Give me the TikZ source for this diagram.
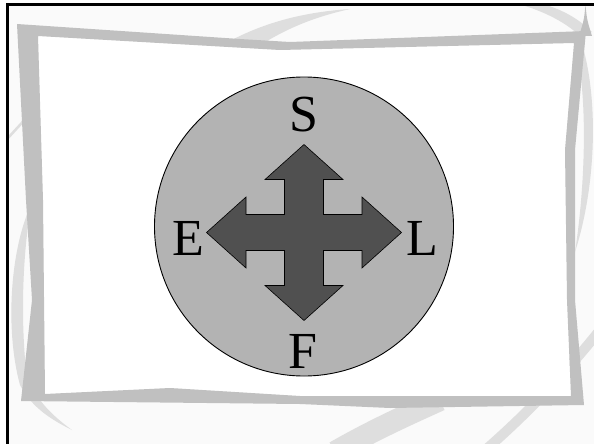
\documentclass[tikz,border=0pt]{standalone}
\usepackage{fontspec}
\setmainfont{Liberation Serif}
\definecolor{slidebg}{HTML}{FAFAFA}
\definecolor{framegrey}{HTML}{C0C0C0}
\definecolor{swooshgrey}{HTML}{DEDEDE}
\definecolor{discgrey}{HTML}{B3B3B3}
\definecolor{crossgrey}{HTML}{505050}
\begin{document}
\begin{tikzpicture}[x=1pt,y=-1pt,
  swoosh/.style={fill=swooshgrey},
  swooshline/.style={draw=swooshgrey},
  frameband/.style={fill=framegrey, even odd rule},
  letter/.style={font=\fontsize{52}{52}\selectfont, inner sep=0pt},
  disc/.style={draw=black, line width=0.9pt, circle, fill=discgrey, minimum size=299pt, inner sep=0pt},
  crossarrow/.style={draw=black, line width=0.6pt, fill=crossgrey, line join=miter}
]
\useasboundingbox (0,0) rectangle (594,444);
\fill[white] (0,0) rectangle (594,444);
\fill[slidebg] (7.5,4.5) rectangle (594,444);

% light swooshes
\fill[swoosh] (228,42) .. controls (265,22) and (305,12) .. (350,9)
  .. controls (310,18) and (285,30) .. (262,44) -- cycle;
\fill[swoosh] (522,5) .. controls (545,12) and (565,22) .. (580,36)
  -- (592,32) .. controls (578,18) and (562,10) .. (546,5) -- cycle;
\fill[framegrey] (585.5,5) .. controls (584,20) .. (579,36) -- (592,36)
  .. controls (587,20) .. (585.5,5) -- cycle;
\fill[swoosh] (580,38) .. controls (598,90) and (598,180) .. (575,252)
  .. controls (586,180) and (588,90) .. (574,40) -- cycle;
\fill[swoosh] (31,205) .. controls (10,250) and (5,330) .. (20,385)
  .. controls (32,408) and (52,420) .. (72,430)
  .. controls (50,414) and (32,396) .. (26,370)
  .. controls (21,320) and (22,260) .. (31,205) -- cycle;
\draw[swooshline, line width=2.5pt] (8,138) -- (30,114);
\draw[swooshline, line width=22pt] (335,452) .. controls (370,432) and (400,418) .. (440,400);
\draw[swooshline, line width=10pt] (483,452) .. controls (520,420) and (560,380) .. (600,330);

% frame
\fill[white] (38,36) -- (280,50) -- (574,43) -- (565,150) -- (567,300) -- (571,396)
  -- (300,396) -- (170,388) -- (45,394) -- (43,200) -- cycle;
\fill[frameband]
  (17,24) -- (240,39) -- (290,42) -- (586,31) -- (575,150) -- (575,300) -- (584,405)
  -- (390,408) -- (300,404) -- (21,401) -- (32,300) -- (26,200) -- cycle
  (38,36) -- (280,50) -- (574,43) -- (565,150) -- (567,300) -- (571,396)
  -- (300,396) -- (170,388) -- (45,394) -- (43,200) -- cycle;

% slide border
\draw[line width=2.2pt] (7.5,444) -- (7.5,4.5) -- (594,4.5);

% disc
\node[disc] (dial) at (304,226.5) {};

% four-way arrow
\filldraw[crossarrow, shift={(304,232.5)}]
  (0,-88) -- (39,-53) -- (19.5,-53) -- (19.5,-18) -- (58,-18) -- (58,-35.5)
  -- (97.5,0) -- (58,35.5) -- (58,18) -- (19.5,18) -- (19.5,53) -- (39,53)
  -- (0,88) -- (-39,53) -- (-19.5,53) -- (-19.5,18) -- (-58,18) -- (-58,35.5)
  -- (-97.5,0) -- (-58,-35.5) -- (-58,-18) -- (-19.5,-18) -- (-19.5,-53)
  -- (-39,-53) -- cycle;

% labels
\node[letter] (S) at (304,115) {S};
\node[letter] (E) at (188,238) {E};
\node[letter] (L) at (422.5,238) {L};
\node[letter] (F) at (303,351.5) {F};
\end{tikzpicture}
\end{document}
